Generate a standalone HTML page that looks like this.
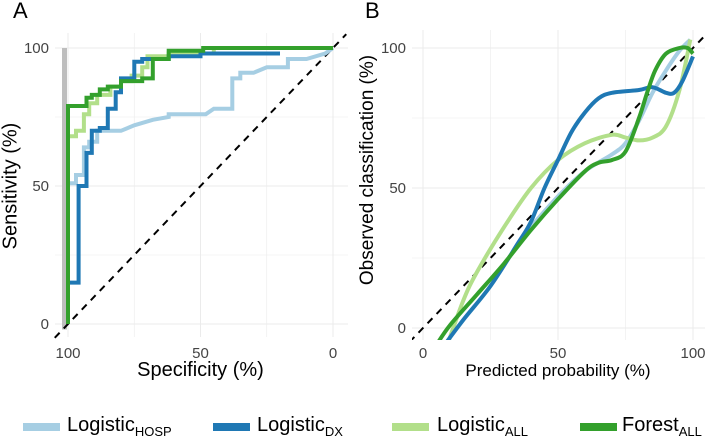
<!DOCTYPE html>
<html><head><meta charset="utf-8"><style>
body{margin:0;background:#fff;}
svg{display:block;font-family:"Liberation Sans",sans-serif;}
</style></head><body>
<svg id="c" width="708" height="439" viewBox="0 0 708 439"></svg>
<script>
// Panel A: ROC step curves [specificity, sensitivity]
const rocHosp=[[100,51],[97,51],[97,54],[94,54],[94,64],[92,64],[92,66],[89,66],[89,70],[80,70],[75,72],[68,74],[62,75],[62,76],[48,76],[45,78],[38,78],[38,89],[35,89],[35,91],[30,91],[25,93],[17,93],[17,96],[10,96],[3,98],[0,100]];
const rocDx=[[100,0],[100,15],[96,15],[96,50],[93,50],[93,62],[91,62],[91,70],[88,70],[88,71],[85,71],[85,78],[82,78],[82,84],[80,84],[80,89],[75,89],[75,95],[72,95],[72,96],[62,96],[62,97],[50,97],[50,98],[20,98]];
const rocAll=[[100,68],[97,68],[97,70],[94,70],[94,76],[92,76],[92,80],[89,80],[89,83],[84,83],[84,86],[80,86],[80,88],[76,88],[76,90],[72,90],[72,93],[70,93],[70,97],[62,97],[62,98],[45,98],[45,100],[0,100]];
const rocForest=[[100,0],[100,79],[93,79],[93,82],[91,82],[91,83],[88,83],[88,85],[85,85],[85,86],[80,86],[80,88],[72,88],[72,89],[68,89],[68,96],[62,96],[62,99],[49,99],[49,100],[0,100]];
// Panel B: calibration curves [predicted, observed]
const calHosp=[[38,34],[50,47],[60,56],[70,62],[75,66],[80,74],[85,84],[90,92],[95,99],[99,103]];
const calDx=[[8,-6],[15,3],[25,15],[35,30],[40,38],[45,50],[50,60],[55,70],[60,77],[65,82],[70,84],[80,85],[85,86],[90,84],[93,84],[96,88],[100,97]];
const calAll=[[9,-6],[15,10],[20,20],[30,36],[40,50],[50,60],[60,66],[70,69],[75,68],[80,67],[85,68],[90,72],[95,85],[99,103]];
const calForest=[[5,-6],[10,1],[20,12],[30,23],[40,35],[50,46],[60,56],[65,59],[70,60],[75,63],[80,75],[83,84],[86,92],[90,98],[95,100],[98,100],[100,98]];
const ticks=[0,50,100];
const ticksMinor=[25,75];
const colors={hosp:"#a6cee3",dx:"#1f78b4",all:"#b2df8a",forest:"#33a02c"};

const NS="http://www.w3.org/2000/svg";
const svg=document.getElementById('c');
function mk(tag,attrs,parent){const e=document.createElementNS(NS,tag);for(const k in attrs)e.setAttribute(k,attrs[k]);(parent||svg).appendChild(e);return e;}

const axA={x:v=>68+(100-v)*2.65,y:v=>324-v*2.76,l:55,r:348,t:33,b:337};
const axB={x:v=>423+v*2.7,y:v=>328-v*2.8,l:412,r:705,t:30,b:340};

function panel(ax,g,name){
  const grid=mk('g',{},g);
  
  
  ticks.concat(ticksMinor).forEach(v=>{
    const w=ticks.includes(v)?1:0.6;
    mk('line',{x1:ax.x(v),x2:ax.x(v),y1:ax.t,y2:ax.b,stroke:'#ebebeb','stroke-width':w},grid);
    mk('line',{x1:ax.l,x2:ax.r,y1:ax.y(v),y2:ax.y(v),stroke:'#ebebeb','stroke-width':w},grid);
  });
  ticks.forEach(v=>{
    const t=mk('text',{x:ax.x(v),y:358,'text-anchor':'middle','font-size':15,fill:'#444'},g);t.textContent=v;
    
    const u=mk('text',{x:ax.l-6,y:ax.y(v)+5,'text-anchor':'end','font-size':15,fill:'#444'},g);u.textContent=v;
    
  });
}
function path(pts,ax){return pts.map((p,i)=>(i?'L':'M')+ax.x(p[0]).toFixed(1)+','+ax.y(p[1]).toFixed(1)).join('');}
function smooth(pts,ax){
  const P=pts.map(p=>[ax.x(p[0]),ax.y(p[1])]);let d='M'+P[0][0]+','+P[0][1];
  for(let i=0;i<P.length-1;i++){const p0=P[i-1]||P[i],p1=P[i],p2=P[i+1],p3=P[i+2]||p2;
    d+='C'+(p1[0]+(p2[0]-p0[0])/6)+','+(p1[1]+(p2[1]-p0[1])/6)+' '+(p2[0]-(p3[0]-p1[0])/6)+','+(p2[1]-(p3[1]-p1[1])/6)+' '+p2[0]+','+p2[1];}
  return d;
}

const gA=mk('g',{});
panel(axA,gA,'roc');
const bar=mk('rect',{x:axA.x(100)-6,y:axA.y(100),width:5,height:axA.y(-2)-axA.y(100),fill:'#bebebe'},gA);

const dA=mk('line',{x1:axA.x(105),y1:axA.y(-5),x2:axA.x(-5),y2:axA.y(105),stroke:'#000','stroke-width':2,'stroke-dasharray':'7,6'},gA);

[['hosp',rocHosp],['all',rocAll],['dx',rocDx],['forest',rocForest]].forEach(([k,d])=>{
  const p=mk('path',{d:path(d,axA),fill:'none',stroke:colors[k],'stroke-width':4,'stroke-linejoin':'miter'},gA);
  
});

const gB=mk('g',{});
panel(axB,gB,'cal');
const cp=mk('clipPath',{id:'cb'},gB);
mk('rect',{x:axB.l,y:0,width:axB.r-axB.l+4,height:axB.b},cp);
const dB=mk('line',{x1:axB.x(-5),y1:axB.y(-5),x2:axB.x(104),y2:axB.y(104),stroke:'#000','stroke-width':2,'stroke-dasharray':'7,6','clip-path':'url(#cb)'},gB);

[['hosp',calHosp],['all',calAll],['dx',calDx],['forest',calForest]].forEach(([k,d])=>{
  const p=mk('path',{d:smooth(d,axB),fill:'none',stroke:colors[k],'stroke-width':4,'clip-path':'url(#cb)'},gB);
  
});
</script>
<div style="position:absolute;left:0;top:0;width:708px;height:439px;pointer-events:none;font-family:'Liberation Sans',sans-serif;">
  <div style="position:absolute;left:13px;top:-2px;font-size:22px;">A</div>
  <div style="position:absolute;left:365px;top:-2px;font-size:22px;">B</div>
  <div style="position:absolute;left:68px;width:265px;top:359px;text-align:center;font-size:20px;">Specificity (%)</div>
  <div style="position:absolute;left:423px;width:270px;top:361px;text-align:center;font-size:17px;">Predicted probability (%)</div>
  <div style="position:absolute;left:11px;top:186px;width:0;height:0;"><div style="position:absolute;transform:translate(-50%,-50%) rotate(-90deg);white-space:nowrap;font-size:20px;">Sensitivity (%)</div></div>
  <div style="position:absolute;left:368px;top:170px;width:0;height:0;"><div style="position:absolute;transform:translate(-50%,-50%) rotate(-90deg);white-space:nowrap;font-size:19px;">Observed classification (%)</div></div>
  <div style="position:absolute;left:0;top:414px;width:708px;height:25px;font-size:20px;">
    <div style="position:absolute;left:23px;top:9px;width:37px;height:8px;background:#a6cee3"></div>
    <div style="position:absolute;left:67px;top:0;">Logistic<sub style="font-size:13px">HOSP</sub></div>
    <div style="position:absolute;left:213px;top:9px;width:37px;height:8px;background:#1f78b4"></div>
    <div style="position:absolute;left:257px;top:0;">Logistic<sub style="font-size:13px">DX</sub></div>
    <div style="position:absolute;left:392px;top:9px;width:37px;height:8px;background:#b2df8a"></div>
    <div style="position:absolute;left:437px;top:0;">Logistic<sub style="font-size:13px">ALL</sub></div>
    <div style="position:absolute;left:580px;top:9px;width:37px;height:8px;background:#33a02c"></div>
    <div style="position:absolute;left:622px;top:0;">Forest<sub style="font-size:13px">ALL</sub></div>
  </div>
</div>
</body></html>
